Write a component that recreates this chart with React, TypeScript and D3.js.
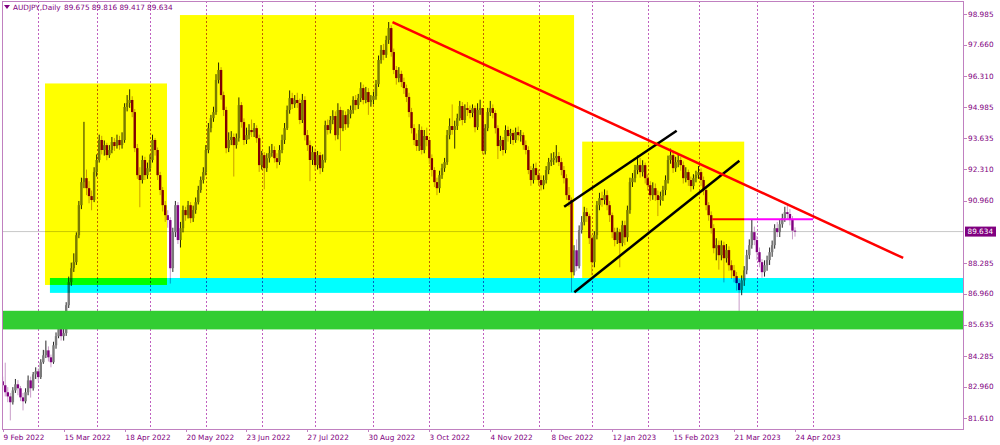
import React from "react";
import * as d3 from "d3";

// ---------- DATA ----------
const firstOpen = 83.2;
const closes = [
  83.03,82.73,82.55,82.30,82.81,83.07,82.90,82.51,82.34,82.73,
  83.24,82.90,83.50,83.63,83.38,84.02,84.32,84.53,84.23,84.02,
  84.75,85.14,85.48,85.14,85.27,86.47,87.46,88.06,88.32,89.48,
  90.77,91.76,91.93,91.50,91.16,90.99,92.19,92.71,93.57,93.14,
  93.35,92.92,93.14,93.48,93.31,93.57,93.35,93.57,94.99,95.16,
  95.29,94.77,93.22,92.06,91.85,92.71,92.06,92.36,92.71,93.57,
  93.14,92.06,91.42,90.77,90.34,90.13,88.06,89.61,90.77,89.27,
  89.78,90.56,90.34,90.77,90.21,90.56,90.90,91.42,91.85,92.19,
  93.14,94.08,94.51,94.77,96.15,96.58,95.50,94.86,93.22,93.57,
  93.70,93.35,93.65,95.07,94.34,93.57,93.78,94.00,93.91,94.08,
  93.65,92.49,92.92,92.36,92.79,93.01,93.14,92.79,92.62,93.14,
  93.57,94.08,94.86,95.37,95.11,95.29,95.16,94.43,95.29,93.78,
  93.35,92.71,93.05,92.49,92.92,92.36,92.71,94.21,94.00,94.43,
  94.60,93.78,94.86,94.08,94.64,94.25,94.68,94.86,95.29,95.07,
  95.37,95.80,95.29,95.63,95.20,95.29,95.46,95.97,97.01,97.44,
  97.23,97.87,98.38,97.35,96.58,96.23,96.41,96.06,95.80,95.42,
  94.77,94.08,93.57,93.31,94.00,93.14,93.74,93.57,92.79,92.28,
  91.76,91.50,92.06,92.36,92.62,93.78,94.17,94.00,94.17,94.51,
  95.03,94.43,94.94,94.86,94.73,94.94,94.12,94.86,94.94,93.10,
  94.08,94.77,94.94,94.73,94.08,93.31,93.57,93.14,94.00,93.74,
  93.87,93.57,93.91,93.78,93.78,93.35,93.14,92.28,91.85,92.36,
  92.06,91.85,91.63,91.85,92.28,92.62,92.71,92.79,92.88,92.62,
  92.28,91.93,91.20,90.99,87.89,88.83,88.15,89.70,90.04,90.47,
  90.30,89.35,88.32,89.48,90.77,91.07,90.99,91.20,90.77,90.34,
  89.61,89.27,89.61,89.14,89.91,89.39,90.56,91.76,91.93,92.28,
  92.49,92.19,92.49,91.93,91.63,91.20,91.50,91.20,90.99,91.16,
  91.42,91.85,92.71,92.92,92.36,92.62,92.71,92.49,91.93,92.19,
  91.85,91.59,91.93,92.06,92.19,91.85,91.42,90.77,90.34,89.78,
  88.92,89.05,88.62,89.05,88.49,88.84,88.19,87.97,87.72,87.42,
  87.12,87.54,87.97,88.62,89.05,89.61,89.27,88.75,88.32,87.89,
  88.19,88.41,88.75,89.05,89.78,89.61,89.95,90.21,90.47,90.39,
  90.13,89.675,89.634,
];
const highs = [
  83.40,84.00,82.95,82.70,82.95,83.30,83.25,83.00,82.70,82.90,
  83.45,83.40,83.60,83.80,83.75,84.15,84.55,84.95,84.70,84.35,
  84.90,85.30,85.85,85.60,85.45,86.60,87.70,88.30,88.70,89.60,
  90.95,91.95,94.35,92.30,91.80,91.40,92.40,92.95,93.80,93.75,
  93.55,93.45,93.35,93.70,93.65,93.80,93.75,93.90,95.15,95.50,
  95.75,95.45,94.90,93.40,92.40,92.90,92.85,92.60,92.95,93.80,
  93.65,93.25,92.20,91.55,90.95,90.55,90.25,89.80,90.95,90.90,
  90.05,90.75,90.70,90.95,90.90,90.75,91.10,91.60,92.00,92.40,
  93.35,94.30,94.65,95.00,96.40,96.90,96.70,95.65,95.00,93.90,
  93.95,93.85,93.85,95.40,95.20,94.50,94.10,94.25,94.45,94.30,
  94.20,93.80,93.10,93.05,93.00,93.30,93.40,93.30,93.00,93.35,
  93.80,94.30,95.05,95.70,95.60,95.50,95.60,95.35,95.55,95.45,
  94.00,93.55,93.30,93.20,93.10,93.05,92.95,94.40,94.45,94.60,
  94.85,94.80,95.15,95.00,94.85,94.80,94.90,95.05,95.45,95.50,
  95.55,96.05,95.95,95.85,95.80,95.50,95.65,96.15,97.20,97.65,
  97.70,98.05,98.64,98.50,97.50,96.75,96.70,96.55,96.25,95.95,
  95.60,94.95,94.25,93.85,94.25,94.15,94.00,94.10,93.65,92.95,
  92.40,91.95,92.25,92.55,92.80,94.00,94.50,95.10,94.40,94.70,
  95.25,95.20,95.10,95.20,95.05,95.10,95.05,95.15,95.30,94.95,
  94.25,94.95,95.25,95.10,94.85,94.20,93.75,93.70,94.20,94.15,
  94.05,94.00,94.10,94.15,94.00,93.90,93.55,93.30,92.45,92.55,
  92.60,92.30,92.05,92.05,92.45,92.80,93.00,93.05,93.35,93.05,
  92.80,92.45,92.10,91.55,91.10,89.05,89.30,89.90,90.30,90.70,
  90.65,90.40,89.50,89.65,90.95,91.30,91.35,91.45,91.40,90.95,
  90.45,89.80,89.80,89.75,90.10,90.10,90.75,91.95,92.15,92.50,
  92.90,92.80,92.70,92.60,92.10,91.80,91.75,91.70,91.40,91.35,
  91.60,92.05,92.90,93.20,93.10,92.85,93.00,92.85,92.65,92.40,
  92.30,92.00,92.10,92.25,92.45,92.35,92.00,91.55,90.90,90.50,
  89.95,89.35,89.25,89.25,89.20,89.10,89.00,88.40,88.20,87.90,
  87.60,87.75,88.15,88.85,89.30,90.15,89.85,89.45,88.95,88.45,
  88.40,88.60,88.95,89.25,89.95,90.05,90.15,90.40,90.70,90.85,
  90.60,90.30,89.816,
];
const lows = [
  82.80,82.55,82.30,81.52,82.20,82.70,82.60,82.35,81.95,82.25,
  82.60,82.50,82.80,83.30,83.20,83.30,83.95,84.20,84.05,83.80,
  83.95,84.60,85.05,84.95,84.95,85.15,86.35,87.30,87.90,88.20,
  89.35,90.60,91.50,91.20,90.85,90.55,90.90,92.00,92.60,92.95,
  92.90,92.70,92.80,93.00,93.10,93.20,93.15,93.20,93.45,94.80,
  94.95,94.55,93.05,91.90,90.68,91.70,91.85,91.90,92.20,92.60,
  92.90,91.85,91.20,90.50,90.05,89.80,87.40,87.90,89.40,89.10,
  88.95,89.60,90.10,90.20,90.00,90.05,90.40,90.80,91.30,91.70,
  92.05,93.00,93.90,94.35,94.65,96.00,95.30,94.60,93.00,93.05,
  93.35,92.00,93.20,93.50,94.10,93.35,93.40,93.60,93.70,93.70,
  93.45,92.20,92.30,91.45,92.20,92.60,92.85,92.60,92.35,92.50,
  93.00,93.40,94.00,94.70,94.90,94.95,94.95,94.25,94.30,93.55,
  93.10,91.80,92.50,92.25,92.30,92.10,92.20,92.60,93.80,93.85,
  94.25,93.55,93.60,93.10,93.95,94.00,94.10,94.50,94.70,94.85,
  94.90,95.20,95.10,95.15,94.65,95.00,95.10,95.30,95.85,96.85,
  97.00,97.10,97.70,97.15,96.40,95.95,96.05,95.85,95.55,95.20,
  94.55,93.85,93.35,93.10,93.10,92.95,93.00,93.30,92.55,92.00,
  91.55,91.20,91.30,91.90,92.20,92.50,93.60,93.80,93.20,94.00,
  94.40,94.20,94.30,94.60,94.50,94.55,93.90,94.00,94.65,92.95,
  92.95,93.95,94.60,94.50,93.85,92.75,93.10,92.90,93.00,93.50,
  93.40,93.35,93.45,93.55,93.50,93.15,92.95,92.10,91.60,91.70,
  91.85,91.60,91.40,91.45,91.70,92.10,92.45,92.50,92.60,92.45,
  92.05,91.70,91.00,90.70,87.03,87.75,87.95,88.05,89.55,89.90,
  90.05,89.10,87.75,88.10,89.30,90.55,90.70,90.80,90.55,90.05,
  89.35,89.00,89.10,88.10,89.00,89.05,89.20,90.40,91.55,91.75,
  92.10,91.95,92.00,91.70,91.40,90.95,91.00,90.95,90.30,90.75,
  90.95,91.20,91.70,92.55,92.15,92.20,92.40,92.25,91.70,91.75,
  91.60,91.35,91.45,91.75,91.90,91.60,91.20,90.55,90.10,89.55,
  88.70,88.40,88.00,88.40,87.45,88.30,87.95,87.60,87.45,87.10,
  86.13,86.90,87.30,87.80,88.45,88.90,89.05,88.40,88.10,87.65,
  87.70,87.95,88.20,88.55,88.90,89.40,89.40,89.80,90.05,90.15,
  89.90,89.30,89.417,
];

const yTickLabels = ["98.985","97.660","96.310","94.985","93.635","92.310","90.960","88.285","86.960","85.635","84.285","82.960","81.610"];
const xTickBars = [0,24,48,72,96,120,144,168,192,216,240,264,288,312];
const xTickLabels = ["9 Feb 2022","15 Mar 2022","18 Apr 2022","20 May 2022","23 Jun 2022","27 Jul 2022","30 Aug 2022","3 Oct 2022","4 Nov 2022","8 Dec 2022","12 Jan 2023","15 Feb 2023","21 Mar 2023","24 Apr 2023"];
const monthGridBars = [14,37,58,80,102,123,146,168,189,211,232,254,274,297,319];

const lastPrice = 89.634;
const titleSymbol = "AUDJPY,Daily";
const titleValues = ["89.675","89.816","89.417","89.634"];

// zones: [barStart, barEnd, priceTop, priceBottom]
const yellowZones = [
  [16.66, 64.7, 96.0, 87.34],
  [69.8, 225.0, 98.94, 87.64],
  [228.2, 292.0, 93.5, 87.64],
];
const cyanZone = [18.6, 400, 87.64, 87.0];
const greenZone = [-5, 400, 86.23, 85.43];
// lines: [[bar, price], [bar, price]]
const redTrend = [[153.5, 98.64], [354.6, 88.5]];
const channelUpper = [[221.1, 90.7], [265.4, 93.97]];
const channelLower = [[225.1, 87.03], [290.1, 92.68]];
const resistance = [[279.4, 90.16], [319.1, 90.16]];

// ---------- LAYOUT ----------
const W = 1000, H = 445;
const PL = 2, PR = 964, PT = 1, PB = 429;
const FONT = "DejaVu Sans";
const TXT = "#800080";
const FRAME = "#c080c0";

export default function App() {
  const x = d3.scaleLinear().domain([0, 312]).range([2.7, 795]);
  const y = d3.scaleLinear().domain([81.61, 98.985]).range([418.3, 14]);
  const opens = closes.map((c, i) => (i === 0 ? firstOpen : closes[i - 1]));
  const line = d3.line<number[]>().x((d) => x(d[0])).y((d) => y(d[1]));
  const zoneRect = (z: number[], fill: string, blend: boolean, key: string) => (
    <rect key={key} x={x(z[0])} y={y(z[2])} width={x(z[1]) - x(z[0])} height={y(z[3]) - y(z[2])}
      fill={fill} style={blend ? { mixBlendMode: "multiply" } : undefined} />
  );
  const n = Math.min(closes.length, highs.length, lows.length);
  const candles = [];
  for (let i = 0; i < n; i++) {
    const o = opens[i], c = closes[i], h = highs[i], l = lows[i];
    const bull = c >= o;
    const cx = x(i);
    const top = y(Math.max(o, c)), bot = y(Math.min(o, c));
    candles.push(
      <g key={i}>
        <line x1={cx} x2={cx} y1={y(h)} y2={y(l)} stroke={bull ? "#262626" : "#c89cc8"} strokeWidth={1} />
        <rect x={cx - 1.2} y={top} width={2.4} height={Math.max(1, bot - top)} fill={bull ? "#7a7a7a" : "#800080"} />
      </g>
    );
  }
  const ly = y(lastPrice);
  return (
    <svg width={W} height={H} style={{ position: "absolute", left: 0, top: 0, fontFamily: FONT }}>
      <defs>
        <clipPath id="plot">
          <rect x={PL} y={PT} width={PR - PL} height={PB - PT} />
        </clipPath>
      </defs>
      <rect x={0} y={0} width={W} height={H} fill="#ffffff" />
      <g clipPath="url(#plot)">
        <line x1={PL} x2={PR} y1={ly} y2={ly} stroke="#c8c8c8" strokeWidth={1} />
        {monthGridBars.map((b) => (
          <line key={"g" + b} x1={Math.round(x(b)) + 0.5} x2={Math.round(x(b)) + 0.5} y1={PT} y2={PB}
            stroke="#c060c0" strokeWidth={1} strokeDasharray="2,2" />
        ))}
        {candles}
        <path d={line(resistance as any) || ""} stroke="#ff00ff" strokeWidth={2} fill="none" />
        <path d={line(channelUpper as any) || ""} stroke="#000000" strokeWidth={2.5} fill="none" />
        <path d={line(channelLower as any) || ""} stroke="#000000" strokeWidth={2.5} fill="none" />
        <path d={line(redTrend as any) || ""} stroke="#ff0000" strokeWidth={2.5} fill="none" />
        {yellowZones.map((z, k) => zoneRect(z, "#ffff00", true, "y" + k))}
        {zoneRect(cyanZone, "#00ffff", true, "cy")}
        {zoneRect(greenZone, "#32cd32", false, "gr")}
      </g>
      <rect x={PL + 0.5} y={PT + 0.5} width={PR - PL - 1} height={PB - PT} fill="none" stroke={FRAME} strokeWidth={1} />
      {yTickLabels.map((t) => {
        const yy = y(parseFloat(t));
        return (
          <g key={"yt" + t}>
            <line x1={PR} x2={PR + 3} y1={Math.round(yy) + 0.5} y2={Math.round(yy) + 0.5} stroke={FRAME} />
            <text x={968} y={yy + 2.6} fontSize={7.3} fill={TXT}>{t}</text>
          </g>
        );
      })}
      <rect x={965} y={ly - 5} width={31} height={10} fill="#800080" />
      <text x={967.5} y={ly + 2.6} fontSize={7.3} fill="#ffffff">{lastPrice.toFixed(3)}</text>
      {xTickBars.map((b, k) => {
        const xx = Math.round(x(b)) + 0.5;
        return (
          <g key={"xt" + b}>
            <line x1={xx} x2={xx} y1={PB} y2={PB + 3} stroke={FRAME} />
            <text x={xx} y={439.5} fontSize={7.3} fill={TXT}>{xTickLabels[k]}</text>
          </g>
        );
      })}
      <polygon points="4,5 10,5 7,9" fill={TXT} />
      <text x={13} y={10} fontSize={7.3} fill={TXT}>{titleSymbol}</text>
      {titleValues.map((v, k) => (
        <text key={"tv" + k} x={64 + k * 27.7} y={10} fontSize={7.3} fill={TXT}>{v}</text>
      ))}
    </svg>
  );
}
